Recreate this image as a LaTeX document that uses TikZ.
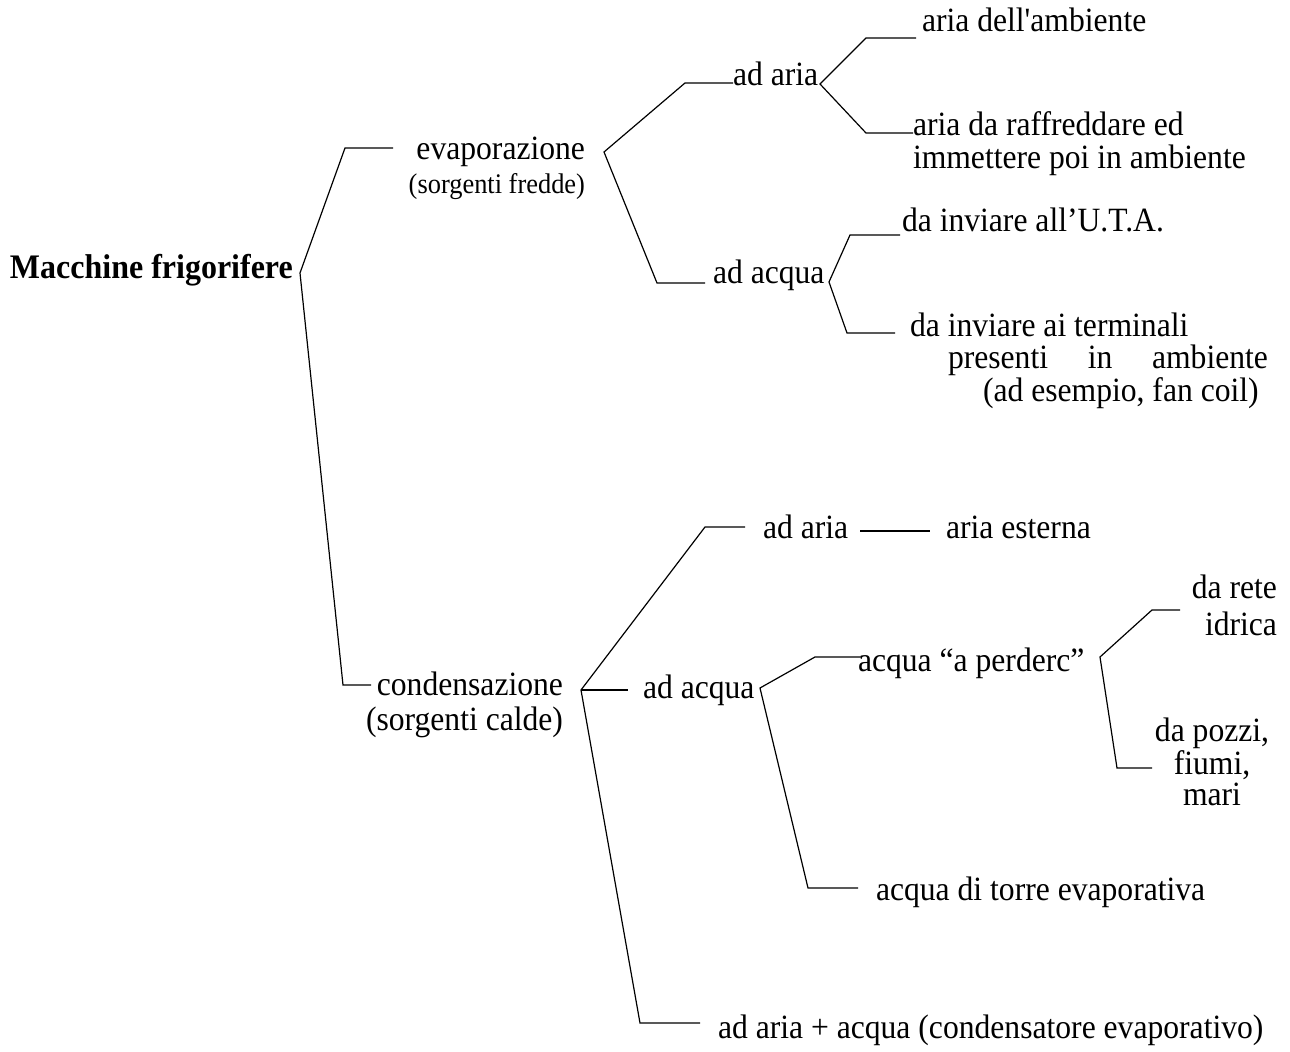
\documentclass[tikz,border=0pt]{standalone}
\usepackage{fontspec}
\setmainfont{Liberation Serif}[FakeStretch=0.93]
\newfontfamily\rawserif{Liberation Serif}[FakeStretch=0.93]
\begin{document}
\begin{tikzpicture}[x=0.75pt,y=-0.75pt,
  lbl/.style={inner sep=0pt,outer sep=0pt,font=\fontsize{25.5}{23}\selectfont},
  br/.style={line width=0.9pt,line join=miter}]
\useasboundingbox (0,0) rectangle (1290,1052);
% ---------- nodes ----------
\node[lbl,anchor=base west,font=\fontsize{25.8}{24}\selectfont\bfseries] (root) at (10,279) {Macchine frigorifere};
\node[lbl,anchor=base east] (evap) at (585,160)
  {\begin{tabular}[t]{@{}r@{}}evaporazione\\[2.5pt]{\fontsize{21.3}{20}\selectfont(sorgenti fredde)}\end{tabular}};
\node[lbl,anchor=base east] (cond) at (563,695)
  {\begin{tabular}[t]{@{}r@{}}condensazione\\[1.75pt](sorgenti calde)\end{tabular}};
\node[lbl,anchor=base west] (ea) at (733,86) {ad aria};
\node[lbl,anchor=base west] (ew) at (713,284) {ad acqua};
\node[lbl,anchor=base west] (amb) at (922,32) {aria dell{\rawserif '}ambiente};
\node[lbl,anchor=base west] (raff) at (913,136)
  {\begin{tabular}[t]{@{}l@{}}aria da raffreddare ed\\immettere poi in ambiente\end{tabular}};
\node[lbl,anchor=base west] (uta) at (902,232) {da inviare all’U.T.A.};
\node[lbl,anchor=base west] (term) at (910,336)
  {\begin{tabular}[t]{@{}l@{}}da inviare ai terminali\\
   \hspace*{28.5pt}\makebox[240pt][s]{presenti in ambiente}\\
   \hspace*{54.75pt}(ad esempio, fan coil)\end{tabular}};
\node[lbl,anchor=base west] (ca) at (763,538) {ad aria};
\node[lbl,anchor=base west] (est) at (946,538) {aria esterna};
\node[lbl,anchor=base west] (cw) at (643,698) {ad acqua};
\node[lbl,anchor=base west] (perd) at (858,671) {acqua “a perderc”};
\node[lbl,anchor=base east] (rete) at (1277,598)
  {\begin{tabular}[t]{@{}r@{}}da rete\\[3.25pt]idrica\end{tabular}};
\node[lbl,anchor=base] (pozzi) at (1212,741)
  {\begin{tabular}[t]{@{}c@{}}da pozzi,\\fiumi,\\mari\end{tabular}};
\node[lbl,anchor=base west] (torre) at (876,900) {acqua di torre evaporativa};
\node[lbl,anchor=base west] (caw) at (718,1038) {ad aria + acqua (condensatore evaporativo)};
% ---------- bracket coordinates ----------
\coordinate (vR) at (300,273);
\coordinate (kE) at (345,148);  \coordinate (tE) at (393,148);
\coordinate (kC) at (343,685);  \coordinate (tC) at (371,685);
\coordinate (vE) at (604,152);
\coordinate (kEa) at (685,83);  \coordinate (tEa) at (733,83);
\coordinate (kEw) at (657,283); \coordinate (tEw) at (705,283);
\coordinate (vEa) at (820,84);
\coordinate (kAmb) at (866,38); \coordinate (tAmb) at (916,38);
\coordinate (kRaff) at (866,133); \coordinate (tRaff) at (913,133);
\coordinate (vEw) at (829,282);
\coordinate (kUta) at (850,235); \coordinate (tUta) at (900,235);
\coordinate (kTerm) at (847,333); \coordinate (tTerm) at (895,333);
\coordinate (vC) at (581,690);
\coordinate (kCa) at (705,527); \coordinate (tCa) at (745,527);
\coordinate (tCw) at (628,690);
\coordinate (kCaw) at (640,1023); \coordinate (tCaw) at (700,1023);
\coordinate (sCa) at (860,531); \coordinate (tEst) at (930,531);
\coordinate (vCw) at (760,688);
\coordinate (kPerd) at (815,657); \coordinate (tPerd) at (862,657);
\coordinate (kTorre) at (808,888); \coordinate (tTorre) at (858,888);
\coordinate (vP) at (1100,657);
\coordinate (kRete) at (1152,610); \coordinate (tRete) at (1180,610);
\coordinate (kPozzi) at (1117,768); \coordinate (tPozzi) at (1152,768);
% ---------- connectors ----------
\draw[br] (tE) -- (kE) -- (vR) -- (kC) -- (tC);
\draw[br] (tEa) -- (kEa) -- (vE) -- (kEw) -- (tEw);
\draw[br] (tAmb) -- (kAmb) -- (vEa) -- (kRaff) -- (tRaff);
\draw[br] (tUta) -- (kUta) -- (vEw) -- (kTerm) -- (tTerm);
\draw[br] (tCa) -- (kCa) -- (vC) -- (kCaw) -- (tCaw);
\draw[br] (vC) -- (tCw);
\draw[br] (sCa) -- (tEst);
\draw[br] (tPerd) -- (kPerd) -- (vCw) -- (kTorre) -- (tTorre);
\draw[br] (tRete) -- (kRete) -- (vP) -- (kPozzi) -- (tPozzi);
\end{tikzpicture}
\end{document}
